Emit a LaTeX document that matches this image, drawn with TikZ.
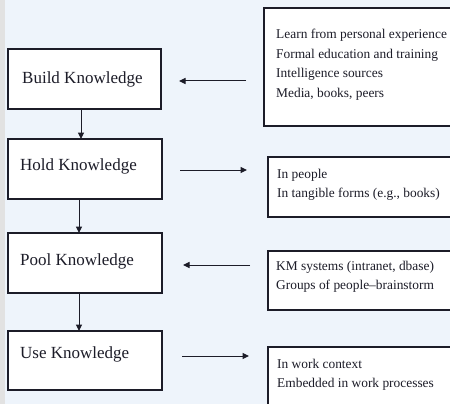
\documentclass[tikz,border=0pt]{standalone}
\usepackage{fontspec}
\setmainfont{Liberation Serif}
\usetikzlibrary{arrows.meta}
\definecolor{bgblue}{HTML}{EEF4FB}
\definecolor{stripgray}{HTML}{E2E2E2}
\definecolor{inkc}{HTML}{1C1C28}
\begin{document}
\begin{tikzpicture}[x=1pt,y=-1pt,
  boxl/.style={draw=inkc, line width=1.2pt, fill=white},
  ltext/.style={anchor=base west, inner sep=0pt, text=inkc, font=\fontsize{17}{20}\selectfont},
  rtext/.style={anchor=base west, inner sep=0pt, text=inkc, font=\fontsize{13.4}{19.4}\selectfont},
  arr/.style={draw=inkc, line width=1pt, -{Triangle[length=6.5pt,width=6pt]}}
]
\useasboundingbox (0,0) rectangle (450,404);
\clip (0,0) rectangle (450,404);
\fill[bgblue] (0,0) rectangle (450,404);
\fill[stripgray] (0,0) rectangle (5,404);

% left boxes
\draw[boxl] (8,49) rectangle (161,109);
\draw[boxl] (8,139) rectangle (162,199);
\draw[boxl] (8,233) rectangle (162,293);
\draw[boxl] (8,331) rectangle (162,390);
\node[ltext] (build) at (22,84) {Build Knowledge};
\node[ltext] (hold) at (20,170) {Hold Knowledge};
\node[ltext] (pool) at (20,265) {Pool Knowledge};
\node[ltext] (use) at (20,358) {Use Knowledge};

% right boxes
\draw[boxl] (264,8) rectangle (470,126);
\draw[boxl] (268,157) rectangle (470,217);
\draw[boxl] (268,251) rectangle (470,310);
\draw[boxl] (268,347) rectangle (470,420);
\node[rtext] (r1) at (276,39) {\begin{tabular}[t]{@{}l@{}}Learn from personal experience\\Formal education and training\\Intelligence sources\\Media, books, peers\end{tabular}};
\node[rtext] (r2) at (277,178) {\begin{tabular}[t]{@{}l@{}}In people\\In tangible forms (e.g., books)\end{tabular}};
\node[rtext] (r3) at (276,270) {\begin{tabular}[t]{@{}l@{}}KM systems (intranet, dbase)\\Groups of people--brainstorm\end{tabular}};
\node[rtext] (r4) at (277,368) {\begin{tabular}[t]{@{}l@{}}In work context\\Embedded in work processes\end{tabular}};

% connector end points
\coordinate (a1s) at (246,81); \coordinate (a1e) at (179,81);
\coordinate (a2s) at (180,170); \coordinate (a2e) at (247,170);
\coordinate (a3s) at (250,265); \coordinate (a3e) at (183,265);
\coordinate (a4s) at (182,356); \coordinate (a4e) at (249,356);
\coordinate (v1s) at (81,109); \coordinate (v1e) at (81,139);
\coordinate (v2s) at (79,199); \coordinate (v2e) at (79,233);
\coordinate (v3s) at (79,293); \coordinate (v3e) at (79,331);

\draw[arr] (a1s) -- (a1e);
\draw[arr] (a2s) -- (a2e);
\draw[arr] (a3s) -- (a3e);
\draw[arr] (a4s) -- (a4e);
\draw[arr] (v1s) -- (v1e);
\draw[arr] (v2s) -- (v2e);
\draw[arr] (v3s) -- (v3e);
\end{tikzpicture}
\end{document}
